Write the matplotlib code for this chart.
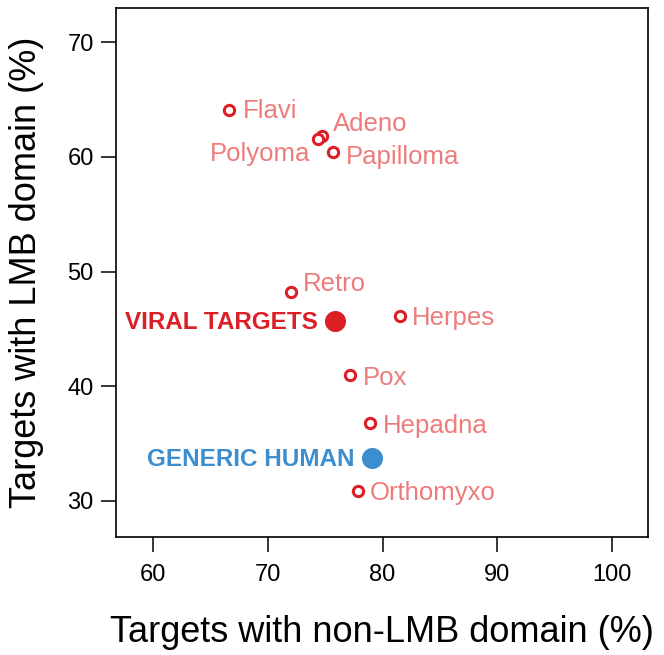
import matplotlib

matplotlib.use("Agg")
import matplotlib.pyplot as plt

plt.rcParams["font.family"] = ["Liberation Sans", "DejaVu Sans"]

# virus families (open circles)
names = ["Flavi", "Adeno", "Polyoma", "Papilloma", "Retro", "Herpes", "Pox", "Hepadna", "Orthomyxo"]
non_lmb = [66.6, 74.7, 74.4, 75.7, 72.0, 81.5, 77.2, 78.9, 77.9]
lmb = [64.1, 61.8, 61.6, 60.4, 48.2, 46.1, 41.0, 36.8, 30.9]

# summary groups (filled circles)
groups = ["VIRAL TARGETS", "GENERIC HUMAN"]
group_non_lmb = [75.9, 79.1]
group_lmb = [45.7, 33.7]

# label offsets in points (dx, dy, ha)
offsets = {
    "Flavi": (10, -1, "left"),
    "Adeno": (8, 9, "left"),
    "Polyoma": (-6, -11, "right"),
    "Papilloma": (9, -3, "left"),
    "Retro": (9, 6, "left"),
    "Herpes": (9, -1, "left"),
    "Pox": (9, -2, "left"),
    "Hepadna": (9, -2, "left"),
    "Orthomyxo": (8, -2, "left"),
}

red = "#dc1f26"
light = "#ee7b7b"
blue = "#3d8ecf"

fig = plt.figure(figsize=(6.64, 6.55), dpi=100)
ax = fig.add_axes([0.1747, 0.1794, 0.8012, 0.8084])

ax.scatter(non_lmb, lmb, s=55, facecolor="white", edgecolor=red, linewidth=2.2, zorder=3)
for n, x, y in zip(names, non_lmb, lmb):
    dx, dy, ha = offsets[n]
    ax.annotate(n, (x, y), xytext=(dx, dy), textcoords="offset points",
                ha=ha, va="center", fontsize=18.5, color=light)

gcolors = [red, blue]
for g, x, y, c in zip(groups, group_non_lmb, group_lmb, gcolors):
    ax.scatter([x], [y], s=230, color=c, zorder=4, linewidth=0)
    ax.annotate(g, (x, y), xytext=(-13, -1), textcoords="offset points",
                ha="right", va="center", fontsize=17.5, fontweight="bold", color=c)

ax.set_xlim(56.8, 103.1)
ax.set_ylim(26.8, 73.0)
ax.set_xticks([60, 70, 80, 90, 100])
ax.set_yticks([30, 40, 50, 60, 70])
ax.tick_params(direction="out", length=11, width=1.1, labelsize=17)
ax.tick_params(axis="x", pad=8)
ax.tick_params(axis="y", pad=5)
for s in ax.spines.values():
    s.set_linewidth(1.2)

ax.set_xlabel("Targets with non-LMB domain (%)", fontsize=26, labelpad=21)
ax.set_ylabel("Targets with LMB domain (%)", fontsize=26, labelpad=17)

fig.savefig("out.png", dpi=100)
